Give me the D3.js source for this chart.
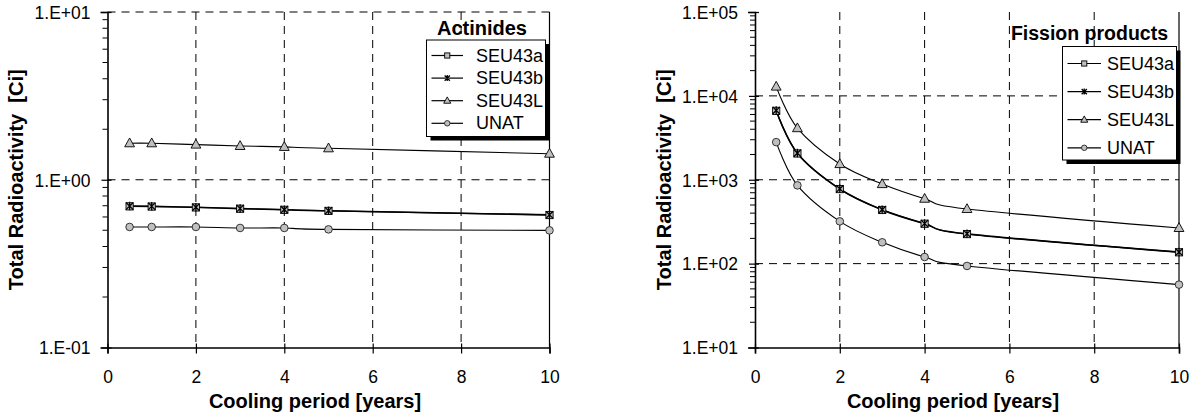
<!DOCTYPE html>
<html><head><meta charset="utf-8">
<script src="https://cdn.jsdelivr.net/npm/d3@7"></script>
<style>
body{margin:0;background:#fff}
svg{display:block}
text{font-family:"Liberation Sans",Arial,Helvetica,sans-serif;fill:#000}
</style>
</head><body>
<svg id="c" width="1197" height="418"></svg>
<script>
// ---------- data ----------
const years = [0.5, 1, 2, 3, 4, 5, 10];
const seriesNames = ["SEU43a", "SEU43b", "SEU43L", "UNAT"];
const markerKinds = ["square", "star", "triangle", "circle"];

const actSEU43a = [0.694, 0.692, 0.684, 0.672, 0.662, 0.652, 0.616];
const actSEU43b = [0.697, 0.695, 0.686, 0.674, 0.664, 0.654, 0.618];
const actSEU43L = [1.65, 1.65, 1.62, 1.59, 1.57, 1.54, 1.43];
const actUNAT   = [0.523, 0.523, 0.523, 0.516, 0.516, 0.506, 0.499];

const fpSEU43a = [6630, 2057, 774, 436, 299, 225, 136.5];
const fpSEU43b = [6700, 2080, 780, 440, 301, 227, 137.5];
const fpSEU43L = [12900, 4120, 1538, 888, 594, 448, 266];
const fpUNAT   = [2808, 857, 319, 179.5, 120, 93.8, 56.2];

const xTicks = [0, 2, 4, 6, 8, 10];
const actYTicks = [0.1, 1, 10];
const actYLabels = ["1.E-01", "1.E+00", "1.E+01"];
const fpYTicks = [10, 100, 1000, 10000, 100000];
const fpYLabels = ["1.E+01", "1.E+02", "1.E+03", "1.E+04", "1.E+05"];

const xTitle = "Cooling period [years]";
const yTitle = "Total Radioactivity  [Ci]";

// ---------- drawing ----------
const svg = d3.select("#c");
const GRAY = "#c0c0c0";

function drawMarker(g, kind, x, y, s) {
  s = s || 1;
  if (kind === "square") {
    g.append("rect").attr("x", x - 3.6*s).attr("y", y - 3.6*s).attr("width", 7.2*s).attr("height", 7.2*s)
      .attr("fill", GRAY).attr("stroke", "#000").attr("stroke-width", 0.9);
  } else if (kind === "star") {
    const r = 3.6*s;
    const p = `M${x-r},${y-r}L${x+r},${y+r}M${x-r},${y+r}L${x+r},${y-r}M${x},${y-r-0.6*s}L${x},${y+r+0.6*s}`;
    g.append("path").attr("d", p).attr("stroke", "#000").attr("stroke-width", 1.3).attr("fill", "none");
  } else if (kind === "triangle") {
    const w = 4.9*s, h = 8.8*s;
    const p = `M${x},${y-h*0.6}L${x+w},${y+h*0.4}L${x-w},${y+h*0.4}Z`;
    g.append("path").attr("d", p).attr("fill", GRAY).attr("stroke", "#000").attr("stroke-width", 0.9);
  } else {
    g.append("circle").attr("cx", x).attr("cy", y).attr("r", 3.8*s)
      .attr("fill", GRAY).attr("stroke", "#222").attr("stroke-width", 0.9);
  }
}

function chart(cfg) {
  const g = svg.append("g");
  const x = d3.scaleLinear().domain([0, 10]).range([cfg.x0, cfg.x1]);
  const y = d3.scaleLog().domain(cfg.yDomain).range([cfg.y1, cfg.y0]);

  // gridlines
  const grid = g.append("g").attr("stroke", "#000").attr("stroke-width", 1).attr("stroke-dasharray", "8,6");
  xTicks.filter(t => t > 0 && t < 10).forEach(t => {
    grid.append("line").attr("x1", x(t)).attr("x2", x(t)).attr("y1", cfg.y0).attr("y2", cfg.y1);
  });
  cfg.yTicks.filter(t => t > cfg.yDomain[0] && (cfg.topGrid || t < cfg.yDomain[1])).forEach(t => {
    grid.append("line").attr("x1", cfg.x0).attr("x2", cfg.x1).attr("y1", y(t)).attr("y2", y(t));
  });

  // right border
  g.append("line").attr("x1", cfg.x1).attr("x2", cfg.x1).attr("y1", cfg.y0).attr("y2", cfg.y1)
    .attr("stroke", "#000").attr("stroke-width", 1.2);

  // axes
  const yAxis = d3.axisLeft(y).tickValues(cfg.yTicks).tickFormat((d, i) => cfg.yLabels[i])
    .tickSize(7).tickPadding(10);
  const ya = g.append("g").attr("transform", `translate(${cfg.x0},0)`).call(yAxis);
  ya.select(".domain").attr("stroke-width", 1.6);
  ya.selectAll(".tick line").attr("x2", -6).attr("x1", 4).attr("stroke-width", 1.2);
  ya.selectAll("text").style("font-size", "17.5px").attr("font-family", null).attr("dy", "0.36em");
  // minor ticks
  const minors = [];
  cfg.yTicks.slice(0, -1).forEach(t => { for (let k = 2; k <= 9; k++) minors.push(t * k); });
  g.append("g").selectAll("line").data(minors).join("line")
    .attr("x1", cfg.x0 - 5).attr("x2", cfg.x0).attr("y1", d => y(d)).attr("y2", d => y(d))
    .attr("stroke", "#000").attr("stroke-width", 1);

  const xAxis = d3.axisBottom(x).tickValues(xTicks).tickFormat(d3.format("d")).tickSize(6).tickPadding(17);
  const xa = g.append("g").attr("transform", `translate(0,${cfg.y1})`).call(xAxis);
  xa.select(".domain").attr("stroke-width", 1.6);
  xa.selectAll(".tick line").attr("y1", -4).attr("stroke-width", 1.2);
  xa.selectAll("text").style("font-size", "17.5px").attr("font-family", null);

  // series lines
  const line = d3.line().x((d, i) => x(years[i])).y(d => y(d)).curve(d3.curveCardinal.tension(0));
  cfg.series.forEach((s, si) => {
    g.append("path").attr("d", line(s)).attr("fill", "none").attr("stroke", "#000")
      .attr("stroke-width", si < 2 ? 1.4 : 1.1);
  });
  cfg.series.forEach((s, si) => {
    s.forEach((v, i) => drawMarker(g, markerKinds[si], x(years[i]), y(v), 1));
  });

  // axis titles
  g.append("text").attr("x", cfg.xTitleX).attr("y", 408).attr("text-anchor", "middle")
    .style("font-size", "20px").style("font-weight", "bold").text(xTitle);
  g.append("text").attr("transform", `translate(${cfg.yTitleX},${(cfg.y0 + cfg.y1) / 2}) rotate(-90)`)
    .attr("text-anchor", "middle").attr("dominant-baseline", "central")
    .style("font-size", "20px").style("font-weight", "bold").style("white-space", "pre").text(yTitle);

  // legend
  const L = cfg.legend;
  g.append("text").attr("x", L.titleX).attr("y", L.titleY).attr("text-anchor", "end")
    .style("font-size", L.titleSize + "px").style("font-weight", "bold").text(cfg.title);
  g.append("rect").attr("x", L.x + 4).attr("y", L.y + 4).attr("width", L.w).attr("height", L.h).attr("fill", "#000");
  g.append("rect").attr("x", L.x).attr("y", L.y).attr("width", L.w).attr("height", L.h)
    .attr("fill", "#fff").attr("stroke", "#000").attr("stroke-width", 1);
  seriesNames.forEach((n, i) => {
    const cy = L.rowY0 + i * L.rowStep;
    g.append("line").attr("x1", L.x + 5).attr("x2", L.x + 5 + L.lineW).attr("y1", cy).attr("y2", cy)
      .attr("stroke", "#000").attr("stroke-width", 1.2);
    drawMarker(g, markerKinds[i], L.x + 5 + L.lineW / 2, cy, 0.72);
    g.append("text").attr("x", L.textX).attr("y", cy).attr("dominant-baseline", "central")
      .style("font-size", L.fontSize + "px").text(n);
  });
}

chart({
  x0: 107.5, x1: 549.5, y0: 12, y1: 347.5,
  yDomain: [0.1, 10], yTicks: actYTicks, yLabels: actYLabels, topGrid: true,
  series: [actSEU43a, actSEU43b, actSEU43L, actUNAT],
  xTitleX: 315, yTitleX: 16,
  title: "Actinides",
  legend: { x: 426.5, y: 40, w: 119, h: 96.5, lineW: 31.5, textX: 476, rowY0: 55.5, rowStep: 22.6,
            fontSize: 18, titleX: 527, titleY: 35, titleSize: 20 }
});

chart({
  x0: 755, x1: 1179, y0: 12, y1: 347.5,
  yDomain: [10, 100000], yTicks: fpYTicks, yLabels: fpYLabels, topGrid: false,
  series: [fpSEU43a, fpSEU43b, fpSEU43L, fpUNAT],
  xTitleX: 953, yTitleX: 664,
  title: "Fission products",
  legend: { x: 1062.5, y: 46.5, w: 114, h: 113.5, lineW: 33.5, textX: 1107, rowY0: 63.5, rowStep: 28.1,
            fontSize: 18, titleX: 1168, titleY: 40, titleSize: 19.5 }
});
</script>
</body></html>
